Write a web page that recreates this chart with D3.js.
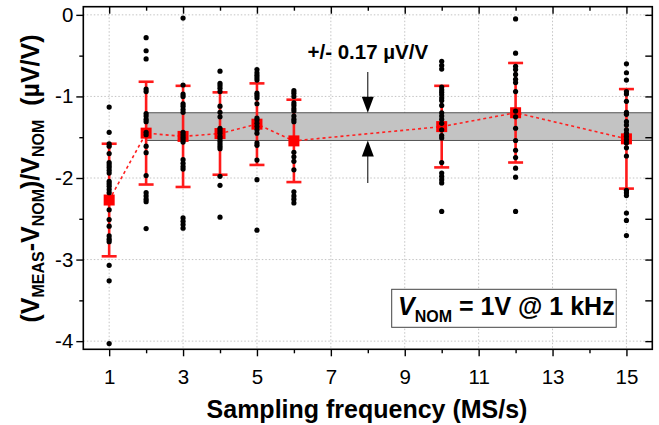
<!DOCTYPE html>
<html><head><meta charset="utf-8">
<script src="https://cdn.jsdelivr.net/npm/d3@7"></script>
<style>
html,body{margin:0;padding:0;background:#fff;}
svg{display:block;}
text{font-family:"Liberation Sans",Arial,sans-serif;}
</style></head>
<body><svg id="c" width="659" height="425"></svg>
<script>
// ---- data ----
const freqs = [1, 2, 3, 4, 5, 6, 10, 12, 15];
const means = [-2.27, -1.45, -1.49, -1.455, -1.34, -1.545, -1.37, -1.20, -1.52];
const errs  = [0.69, 0.63, 0.62, 0.505, 0.50, 0.505, 0.50, 0.61, 0.61];
const raw1  = [-1.13,-1.44,-1.58,-1.61,-1.70,-1.81,-1.84,-1.87,-1.905,-1.94,-2.04,-2.07,-2.10,-2.14,-2.18,-2.39,-2.51,-2.59,-2.71,-2.75,-2.78,-3.07,-3.26,-4.03];
const raw2  = [-0.28,-0.44,-0.54,-0.91,-0.94,-1.21,-1.24,-1.28,-1.31,-1.44,-1.47,-1.61,-1.69,-1.97,-2.18,-2.22,-2.26,-2.29,-2.62];
const raw3  = [-0.04,-0.86,-0.97,-1.00,-1.09,-1.12,-1.16,-1.195,-1.44,-1.47,-1.50,-1.53,-1.56,-1.775,-1.82,-1.86,-1.89,-2.49,-2.53,-2.57,-2.615];
const raw4  = [-0.69,-0.84,-0.87,-0.90,-0.94,-1.12,-1.195,-1.25,-1.39,-1.42,-1.45,-1.49,-1.52,-1.55,-1.58,-1.61,-1.64,-1.98,-2.09,-2.48];
const raw5  = [-0.67,-0.71,-0.74,-0.77,-0.80,-0.96,-0.99,-1.02,-1.09,-1.265,-1.29,-1.33,-1.37,-1.41,-1.45,-1.57,-1.60,-1.78,-2.02,-2.64];
const raw6  = [-0.93,-0.96,-1.00,-1.08,-1.11,-1.15,-1.18,-1.24,-1.28,-1.31,-1.685,-1.74,-1.795,-1.90,-2.17,-2.22,-2.26,-2.305];
const raw10 = [-0.57,-0.62,-0.665,-0.885,-0.92,-0.95,-0.98,-1.02,-1.05,-1.11,-1.20,-1.24,-1.28,-1.33,-1.41,-1.48,-1.51,-1.81,-1.94,-1.98,-2.02,-2.06,-2.41];
const raw12 = [-0.05,-0.47,-0.63,-0.67,-0.73,-0.79,-0.83,-0.94,-1.18,-1.25,-1.39,-1.54,-1.66,-1.75,-1.88,-1.99,-2.41];
const raw15 = [-0.60,-0.71,-0.80,-0.94,-0.97,-1.06,-1.195,-1.22,-1.31,-1.35,-1.41,-1.45,-1.49,-1.53,-1.57,-1.63,-1.73,-2.15,-2.18,-2.215,-2.43,-2.52,-2.705];
const rawByFreq = [raw1, raw2, raw3, raw4, raw5, raw6, raw10, raw12, raw15];
const bandLo = -1.54, bandHi = -1.20, bandStart = 2;
const xMajor = [1, 3, 5, 7, 9, 11, 13, 15];
const xMinor = [2, 4, 6, 8, 10, 12, 14];
const yMajor = [0, -1, -2, -3, -4];
const yMinor = [-0.5, -1.5, -2.5, -3.5];
const annText = "+/- 0.17 µV/V";
const annX = 8;

// ---- layout ----
const L = 83.3, T = 6.7, R = 652.3, B = 349.3;
const svg = d3.select("#c");
const x = d3.scaleLinear().domain([0.3, 15.7]).range([L, R]);
const y = d3.scaleLinear().domain([-4.1, 0.1]).range([B, T]);

// grid
const g = svg.append("g");
g.selectAll(".gx").data(xMajor).join("line")
  .attr("x1", d => x(d)).attr("x2", d => x(d)).attr("y1", T).attr("y2", B)
  .attr("stroke", "#c4c4c4").attr("stroke-width", 1).attr("stroke-dasharray", "1.5,2");
g.selectAll(".gy").data(yMajor).join("line")
  .attr("x1", L).attr("x2", R).attr("y1", d => y(d)).attr("y2", d => y(d))
  .attr("stroke", "#c4c4c4").attr("stroke-width", 1).attr("stroke-dasharray", "1.5,2");

// band
svg.append("rect")
  .attr("x", x(bandStart)).attr("y", y(bandHi))
  .attr("width", R - x(bandStart)).attr("height", y(bandLo) - y(bandHi))
  .attr("fill", "#c3c3c3").attr("stroke", "#555").attr("stroke-width", 1);

// annotation arrows
const ax = x(annX);
svg.append("line").attr("x1", ax).attr("x2", ax).attr("y1", 72).attr("y2", y(bandHi) - 14)
  .attr("stroke", "#000").attr("stroke-width", 1);
svg.append("path").attr("d", `M${ax-6},${y(bandHi)-16} L${ax+6},${y(bandHi)-16} L${ax},${y(bandHi)} Z`).attr("fill", "#000");
svg.append("line").attr("x1", ax).attr("x2", ax).attr("y1", y(bandLo) + 14).attr("y2", 183)
  .attr("stroke", "#000").attr("stroke-width", 1);
svg.append("path").attr("d", `M${ax-6},${y(bandLo)+16} L${ax+6},${y(bandLo)+16} L${ax},${y(bandLo)} Z`).attr("fill", "#000");
svg.append("text").attr("x", ax).attr("y", 59).attr("text-anchor", "middle")
  .attr("font-size", 20.5).attr("font-weight", "bold").text(annText);

// connecting dotted line
svg.append("path")
  .datum(freqs.map((f, i) => [f, means[i]]))
  .attr("d", d3.line().x(d => x(d[0])).y(d => y(d[1])))
  .attr("fill", "none").attr("stroke", "#ff2020").attr("stroke-width", 1.6).attr("stroke-dasharray", "3,3");

// error bars
const eb = svg.append("g").attr("stroke", "#ff1a1a").attr("stroke-width", 2.6);
freqs.forEach((f, i) => {
  const cx = x(f), y1 = y(means[i] + errs[i]), y2 = y(means[i] - errs[i]);
  eb.append("line").attr("x1", cx).attr("x2", cx).attr("y1", y1).attr("y2", y2);
  eb.append("line").attr("x1", cx - 7.5).attr("x2", cx + 7.5).attr("y1", y1).attr("y2", y1);
  eb.append("line").attr("x1", cx - 7.5).attr("x2", cx + 7.5).attr("y1", y2).attr("y2", y2);
});
// mean squares
svg.selectAll(".sq").data(freqs).join("rect")
  .attr("x", d => x(d) - 5.5).attr("y", (d, i) => y(means[i]) - 5.5)
  .attr("width", 11).attr("height", 11).attr("fill", "#ff0000");

// raw points
freqs.forEach((f, i) => {
  svg.append("g").selectAll("circle").data(rawByFreq[i]).join("circle")
    .attr("cx", x(f)).attr("cy", d => y(d)).attr("r", 2.6).attr("fill", "#000");
});

// axes
const fmt = d => d3.format("d")(d).replace("−", "-");
svg.append("g").attr("transform", `translate(0,${B})`)
  .call(d3.axisBottom(x).tickValues(xMajor).tickSize(7).tickPadding(13.5).tickFormat(fmt));
svg.append("g").attr("transform", `translate(0,${B})`)
  .call(d3.axisBottom(x).tickValues(xMinor).tickSize(4).tickFormat(""));
svg.append("g").attr("transform", `translate(${L},0)`)
  .call(d3.axisLeft(y).tickValues(yMajor).tickSize(7).tickPadding(3).tickFormat(fmt));
svg.append("g").attr("transform", `translate(${L},0)`)
  .call(d3.axisLeft(y).tickValues(yMinor).tickSize(4).tickFormat(""));
svg.append("g").attr("transform", `translate(0,${T})`)
  .call(d3.axisTop(x).tickValues(xMajor).tickSize(-7).tickFormat(""));
svg.append("g").attr("transform", `translate(0,${T})`)
  .call(d3.axisTop(x).tickValues(xMinor).tickSize(-4).tickFormat(""));
svg.append("g").attr("transform", `translate(${R},0)`)
  .call(d3.axisRight(y).tickValues(yMajor.concat(yMinor)).tickSize(-7).tickFormat(""));
svg.selectAll(".domain").remove();
svg.selectAll(".tick line").attr("stroke", "#000").attr("stroke-width", 1.4);
svg.selectAll(".tick text").attr("font-size", 20.5).attr("fill", "#000")
  .attr("font-family", "'Liberation Sans',Arial,sans-serif");
// frame
svg.append("rect").attr("x", L).attr("y", T).attr("width", R - L).attr("height", B - T)
  .attr("fill", "none").attr("stroke", "#000").attr("stroke-width", 1.6);

// legend box
svg.append("rect").attr("x", 391.7).attr("y", 289.3).attr("width", 224.5).attr("height", 38)
  .attr("fill", "#fff").attr("stroke", "#444").attr("stroke-width", 1);
const lt = svg.append("text").attr("x", 398).attr("y", 315).attr("font-size", 25).attr("font-weight", "bold");
lt.append("tspan").attr("font-style", "italic").text("V");
lt.append("tspan").attr("font-size", 16).attr("dy", 7).text("NOM");
lt.append("tspan").attr("dy", -7).text(" = 1V @ 1 kHz");

// x title
svg.append("text").attr("x", 367).attr("y", 418).attr("text-anchor", "middle")
  .attr("font-size", 25).attr("font-weight", "bold").text("Sampling frequency (MS/s)");

// y title
const yt = svg.append("text").attr("transform", "translate(39,178.5) rotate(-90)")
  .attr("text-anchor", "middle").attr("font-size", 25).attr("font-weight", "bold")
  .attr("xml:space", "preserve");
yt.append("tspan").text("(V");
yt.append("tspan").attr("font-size", 16).attr("dy", 5).text("MEAS");
yt.append("tspan").attr("dy", -5).text("-V");
yt.append("tspan").attr("font-size", 16).attr("dy", 5).text("NOM");
yt.append("tspan").attr("dy", -5).text(")/V");
yt.append("tspan").attr("font-size", 16).attr("dy", 5).text("NOM");
yt.append("tspan").attr("dy", -5).text("\u00a0\u00a0(µV/V)");
</script></body></html>
